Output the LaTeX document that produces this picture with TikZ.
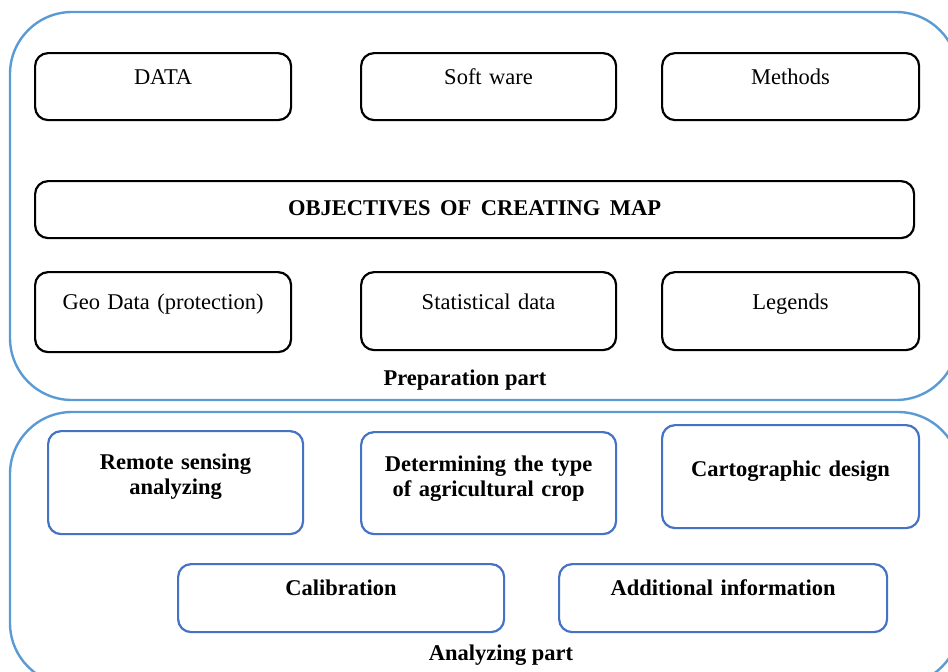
\documentclass[tikz,border=0pt]{standalone}
\usepackage{fontspec}
\setmainfont{Liberation Serif}
\definecolor{partblue}{HTML}{5B9BD5}
\definecolor{boxblue}{HTML}{4472C4}

\begin{document}
\begin{tikzpicture}[x=1pt, y=-1pt,
    font=\fontsize{22.5}{25}\selectfont,
    box/.style={draw, line width=2.2, rounded corners=13, anchor=north west,
      inner sep=0pt, align=center},
    bbox/.style={box, draw=boxblue, font=\fontsize{22.5}{25}\selectfont\bfseries},
    part/.style={draw=partblue, line width=2.4, rounded corners=62}]
  \clip (0,0) rectangle (948,672);
  % the two parts
  \draw[part] (10,12) rectangle (958,400);
  \draw[part] (10,412) rectangle (960,685);
  % preparation part
  \node[box, text width=256, text height=31, text depth=36] (data) at (34,52) {DATA};
  \node[box, text width=255, text height=31, text depth=36] (soft) at (360,52) {Soft ware};
  \node[box, text width=257, text height=31, text depth=36] (meth) at (661,52) {Methods};
  \node[box, text width=879, text height=34, text depth=23, font=\fontsize{22.5}{25}\selectfont\bfseries] (obj) at (34,180) {OBJECTIVES\hspace{2pt} OF\hspace{2pt} CREATING\hspace{2pt} MAP};
  \node[box, text width=256, text height=37, text depth=43] (geo) at (34,271) {Geo Data (protection)};
  \node[box, text width=255, text height=37, text depth=41] (stat) at (360,271) {Statistical data};
  \node[box, text width=257, text height=37, text depth=41] (leg) at (661,271) {Legends};
  \node[anchor=base, font=\fontsize{22.5}{25}\selectfont\bfseries] (prep) at (465,385) {Preparation part};
  % analyzing part
  \node[bbox, text width=255, text height=38, text depth=65] (remote) at (47,430) {Remote sensing\\analyzing};
  \node[bbox, text width=255, text height=39, text depth=63] (crop) at (360,431) {Determining the type\\of agricultural crop};
  \node[bbox, text width=257, text height=51, text depth=52] (carto) at (661,424) {Cartographic design};
  \node[bbox, text width=326, text height=31, text depth=37] (calib) at (177,563) {Calibration};
  \node[bbox, text width=328, text height=31, text depth=37] (addinfo) at (558,563) {Additional information};
  \node[anchor=base, font=\fontsize{22.5}{25}\selectfont\bfseries] (anal) at (501,660) {Analyzing part};
\end{tikzpicture}
\end{document}
